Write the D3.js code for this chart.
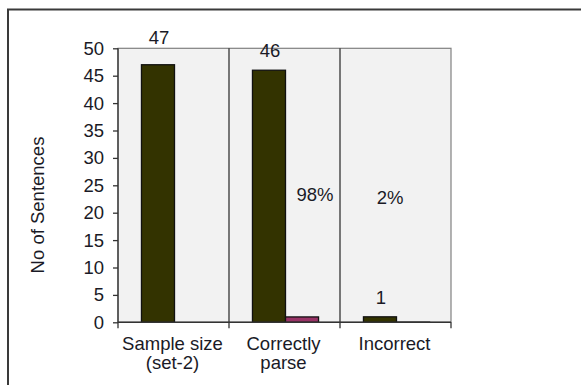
<!DOCTYPE html>
<html><head><meta charset="utf-8">
<script src="https://cdn.jsdelivr.net/npm/d3@7"></script>
<style>
html,body{margin:0;padding:0;background:#fff;}
svg{display:block;font-family:"Liberation Sans",Arial,sans-serif;}
</style></head>
<body><svg id="c" width="581" height="385"></svg>
<script>
const categories = [["Sample size","(set-2)"],["Correctly","parse"],["Incorrect"]];
const countValues = [47, 46, 1];
const shareValues = [0, 0.98, 0.02];
const shareLabels = ["", "98%", "2%"];
const yTicks = [0,5,10,15,20,25,30,35,40,45,50];
const yTitle = "No of Sentences";

const svg = d3.select("#c");
const W = 581, H = 385;
const m = {l:118, r:130, t:48.3, b:62.7};
const pw = W - m.l - m.r, ph = H - m.t - m.b;
const txt = "#1a1a26";
const fs = 18.5;

// outer frame
svg.append("rect").attr("x",8).attr("y",9.5).attr("width",W).attr("height",H)
  .attr("fill","#fff").attr("stroke","#3a3a3a").attr("stroke-width",2);

const g = svg.append("g").attr("transform",`translate(${m.l},${m.t})`);
const x0 = d3.scaleBand().domain(d3.range(categories.length)).range([0,pw]).paddingInner(0).paddingOuter(0);
const x1 = d3.scaleBand().domain([0,1]).range([0,x0.bandwidth()]).paddingOuter(0.68).paddingInner(0);
const y = d3.scaleLinear().domain([0,50]).range([ph,0]);

// plot background
g.append("rect").attr("width",pw).attr("height",ph).attr("fill","#f2f2f2")
  .attr("stroke","#808080").attr("stroke-width",1.2);

// category dividers
g.selectAll(".div").data(d3.range(1,categories.length)).join("line")
  .attr("x1",d=>x0(d)).attr("x2",d=>x0(d)).attr("y1",0).attr("y2",ph+6)
  .attr("stroke","#333").attr("stroke-width",1.3);
g.append("line").attr("x1",pw).attr("x2",pw).attr("y1",ph).attr("y2",ph+6).attr("stroke","#333").attr("stroke-width",1.3);
g.append("line").attr("x1",0).attr("x2",0).attr("y1",ph).attr("y2",ph+6).attr("stroke","#333").attr("stroke-width",1.3);

// bars
const series = [{vals:countValues, fill:"#333300"},{vals:shareValues, fill:"#993366"}];
series.forEach((s,si)=>{
  g.selectAll(".b"+si).data(s.vals).join("rect")
    .attr("x",(d,i)=>x0(i)+x1(si)+1).attr("width",x1.bandwidth())
    .attr("y",d=>y(d)).attr("height",d=>ph-y(d))
    .attr("fill",s.fill).attr("stroke","#111").attr("stroke-width",1.3)
    .style("display",d=>d>0?null:"none");
});

// y axis
const ya = d3.axisLeft(y).tickValues(yTicks).tickSize(5).tickPadding(9);
const yg = g.append("g").call(ya);
yg.select(".domain").attr("stroke","#333").attr("stroke-width",1.3).attr("d",`M0,0V${ph}`);
yg.selectAll(".tick line").attr("stroke","#333").attr("stroke-width",1.3);
yg.selectAll(".tick text").attr("font-size",fs).attr("fill",txt).attr("font-family","Liberation Sans, Arial, sans-serif");

// x axis baseline
g.append("line").attr("x1",0).attr("x2",pw).attr("y1",ph).attr("y2",ph).attr("stroke","#333").attr("stroke-width",1.5);

// category labels
categories.forEach((lines,i)=>{
  const cx = x0(i)+x0.bandwidth()/2 - 1;
  const t = g.append("text").attr("x",cx).attr("y",ph+28)
    .attr("text-anchor","middle").attr("font-size",fs).attr("fill",txt);
  lines.forEach((ln,k)=>t.append("tspan").attr("x",cx).attr("dy",k?19:0).text(ln));
});

// count labels
const countOffsets = [21, 13, 13];
countValues.forEach((v,i)=>{
  g.append("text").attr("x",x0(i)+x1(0)+x1.bandwidth()/2+2).attr("y",y(v)-countOffsets[i])
    .attr("text-anchor","middle").attr("font-size",fs).attr("fill",txt).text(v);
});
// share labels
const shareDx = [0, 14, -22];
shareValues.forEach((v,i)=>{
  if(!shareLabels[i]) return;
  g.append("text").attr("x",x0(i)+x1(1)+x1.bandwidth()/2+shareDx[i]).attr("y",y(22.2)+ (i===2?3.5:0))
    .attr("text-anchor","middle").attr("font-size",fs).attr("fill",txt).text(shareLabels[i]);
});

// y title
svg.append("text").attr("transform",`translate(44,205) rotate(-90)`)
  .attr("text-anchor","middle").attr("font-size",fs).attr("fill",txt).text(yTitle);
</script></body></html>
